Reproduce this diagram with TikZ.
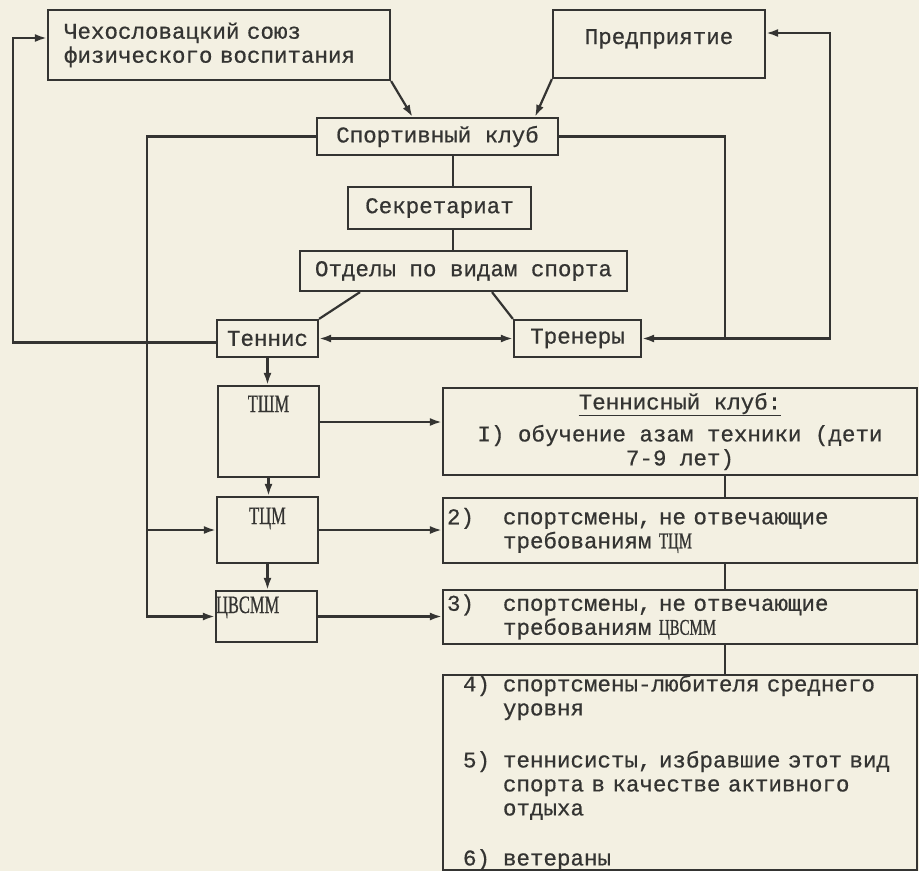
\documentclass[tikz,border=0pt]{standalone}
\usepackage{fontspec}
\newfontfamily\tw[FakeBold=0.6]{Liberation Mono}
\newfontfamily\nar[FakeStretch=0.66,FakeBold=0.6]{Liberation Serif}
\usetikzlibrary{arrows.meta}
\definecolor{paper}{RGB}{243,240,226}
\definecolor{ink}{RGB}{52,52,50}
\newcommand\numbox[2][56pt]{\makebox[#1][l]{#2}}
\lineskiplimit=-100pt
\begin{document}
\begin{tikzpicture}[x=1pt,y=-1pt,
	box/.style={draw=ink,line width=2.2pt,inner sep=0pt,text=ink,font=\tw\fontsize{22.5}{24}\selectfont},
	sbox/.style={box,font=\nar\fontsize{25}{25}\selectfont},
	link/.style={draw=ink,line width=2.2pt},
	arr/.style={link,-{Latex[length=12pt,width=8pt]}},
	arrs/.style={link,{Latex[length=12pt,width=8pt]}-{Latex[length=12pt,width=8pt]}}]
	\useasboundingbox (0,0) rectangle (919,871);
	\fill[paper] (0,0) rectangle (919,871);

	\node[box,minimum width=342pt,minimum height=70pt,text width=310pt,align=left] (csf) at (219,45) {Чехословацкий союз\\физического воспитания};
	\node[box,minimum width=212pt,text height=34pt,text depth=34pt] (pred) at (659,44) {Предприятие};
	\node[box,minimum width=241pt,minimum height=37pt] (club) at (437.5,136.5) {Спортивный клуб};
	\node[box,minimum width=183pt,minimum height=42pt] (secr) at (439.5,208) {Секретариат};
	\node[box,minimum width=327pt,minimum height=40pt] (otd) at (463.5,271) {Отделы по видам спорта};
	\node[box,minimum width=101pt,minimum height=37pt] (ten) at (267.5,338.5) {Теннис};
	\node[box,minimum width=127pt,minimum height=37pt] (tren) at (577.5,338.5) {Тренеры};

	\node[sbox,minimum width=101pt,text height=26pt,text depth=65pt] (tshm) at (268.5,431.5) {ТШМ};
	\node[sbox,minimum width=101pt,text height=27pt,text depth=39pt] (tcm) at (267.5,530) {ТЦМ};
	\node[sbox,text width=101pt,align=left,text height=22pt,text depth=29pt] (cvsmm) at (266.5,616.5) {ЦВСММ};

	\node[box,minimum width=474pt,minimum height=87pt,align=center] (cl1) at (680,431.5) {\underline{Теннисный клуб:}\\[8pt]I) обучение азам техники (дети\\7-9 лет)};
	\node[box,minimum width=474pt,minimum height=65pt,text width=466pt,align=left] (cl2) at (680,530.5) {\numbox{2)}спортсмены, не отвечающие\\\numbox{}требованиям {\nar ТЦМ}};
	\node[box,minimum width=474pt,minimum height=54pt,text width=466pt,align=left] (cl3) at (680,617) {\numbox{3)}спортсмены, не отвечающие\\\numbox{}требованиям {\nar ЦВСММ}};
	\node[box,minimum width=474pt,minimum height=191pt,text width=434pt,align=left] (cl4) at (680,772.5) {\numbox[40pt]{4)}спортсмены-любителя среднего\\\numbox[40pt]{}уровня\\[28pt]\mbox{\numbox[40pt]{5)}теннисисты, избравшие этот вид}\\\numbox[40pt]{}спорта в качестве активного\\\numbox[40pt]{}отдыха\\[26pt]\numbox[40pt]{6)}ветераны};

	\coordinate (fx) at (13,0);
	\coordinate (lx) at (147,0);
	\coordinate (cx) at (453,0);
	\coordinate (rx) at (725,0);
	\coordinate (ox) at (830,0);
	\coordinate (csfin) at ([yshift=7pt]csf.west);
	\coordinate (predin) at ([yshift=11pt]pred.east);
	\coordinate (tshmout) at ([yshift=9.5pt]tshm.east);

	\draw[arr] (csf.south east) -- ([xshift=-25pt]club.north);
	\draw[arr] (pred.south west) -- ([xshift=97.5pt]club.north);
	\draw[link] (club.south -| cx) -- (secr.north -| cx);
	\draw[link] (secr.south -| cx) -- (otd.north -| cx);
	\draw[link] ([xshift=-103.5pt]otd.south) -- (ten.north east);
	\draw[link] ([xshift=28.5pt]otd.south) -- (tren.north west);
	\draw[arrs] (ten.east) -- (tren.west);
	\draw[arr] ([yshift=-4pt]ten.west) -| (csfin -| fx) -- (csfin);
	\draw[arr] (club.west) -| (lx |- cvsmm.west) -- (cvsmm.west);
	\draw[arr] (lx |- tcm.west) -- (tcm.west);
	\draw[link] (club.east) -| (rx |- tren.east);
	\draw[arrs] (predin) -| (ox |- tren.east) -- (tren.east);

	\draw[arr] (ten.south) -- (ten.south |- tshm.north);
	\draw[arr] (tshm.south) -- (tshm.south |- tcm.north);
	\draw[arr] (tcm.south) -- (tcm.south |- cvsmm.north);
	\draw[arr] (tshmout) -- (tshmout -| cl1.west);
	\draw[arr] (tcm.east) -- (tcm.east -| cl2.west);
	\draw[arr] (cvsmm.east) -- (cvsmm.east -| cl3.west);
	\draw[link] (cl1.south -| rx) -- (cl2.north -| rx);
	\draw[link] (cl2.south -| rx) -- (cl3.north -| rx);
	\draw[link] (cl3.south -| rx) -- (cl4.north -| rx);
\end{tikzpicture}
\end{document}
